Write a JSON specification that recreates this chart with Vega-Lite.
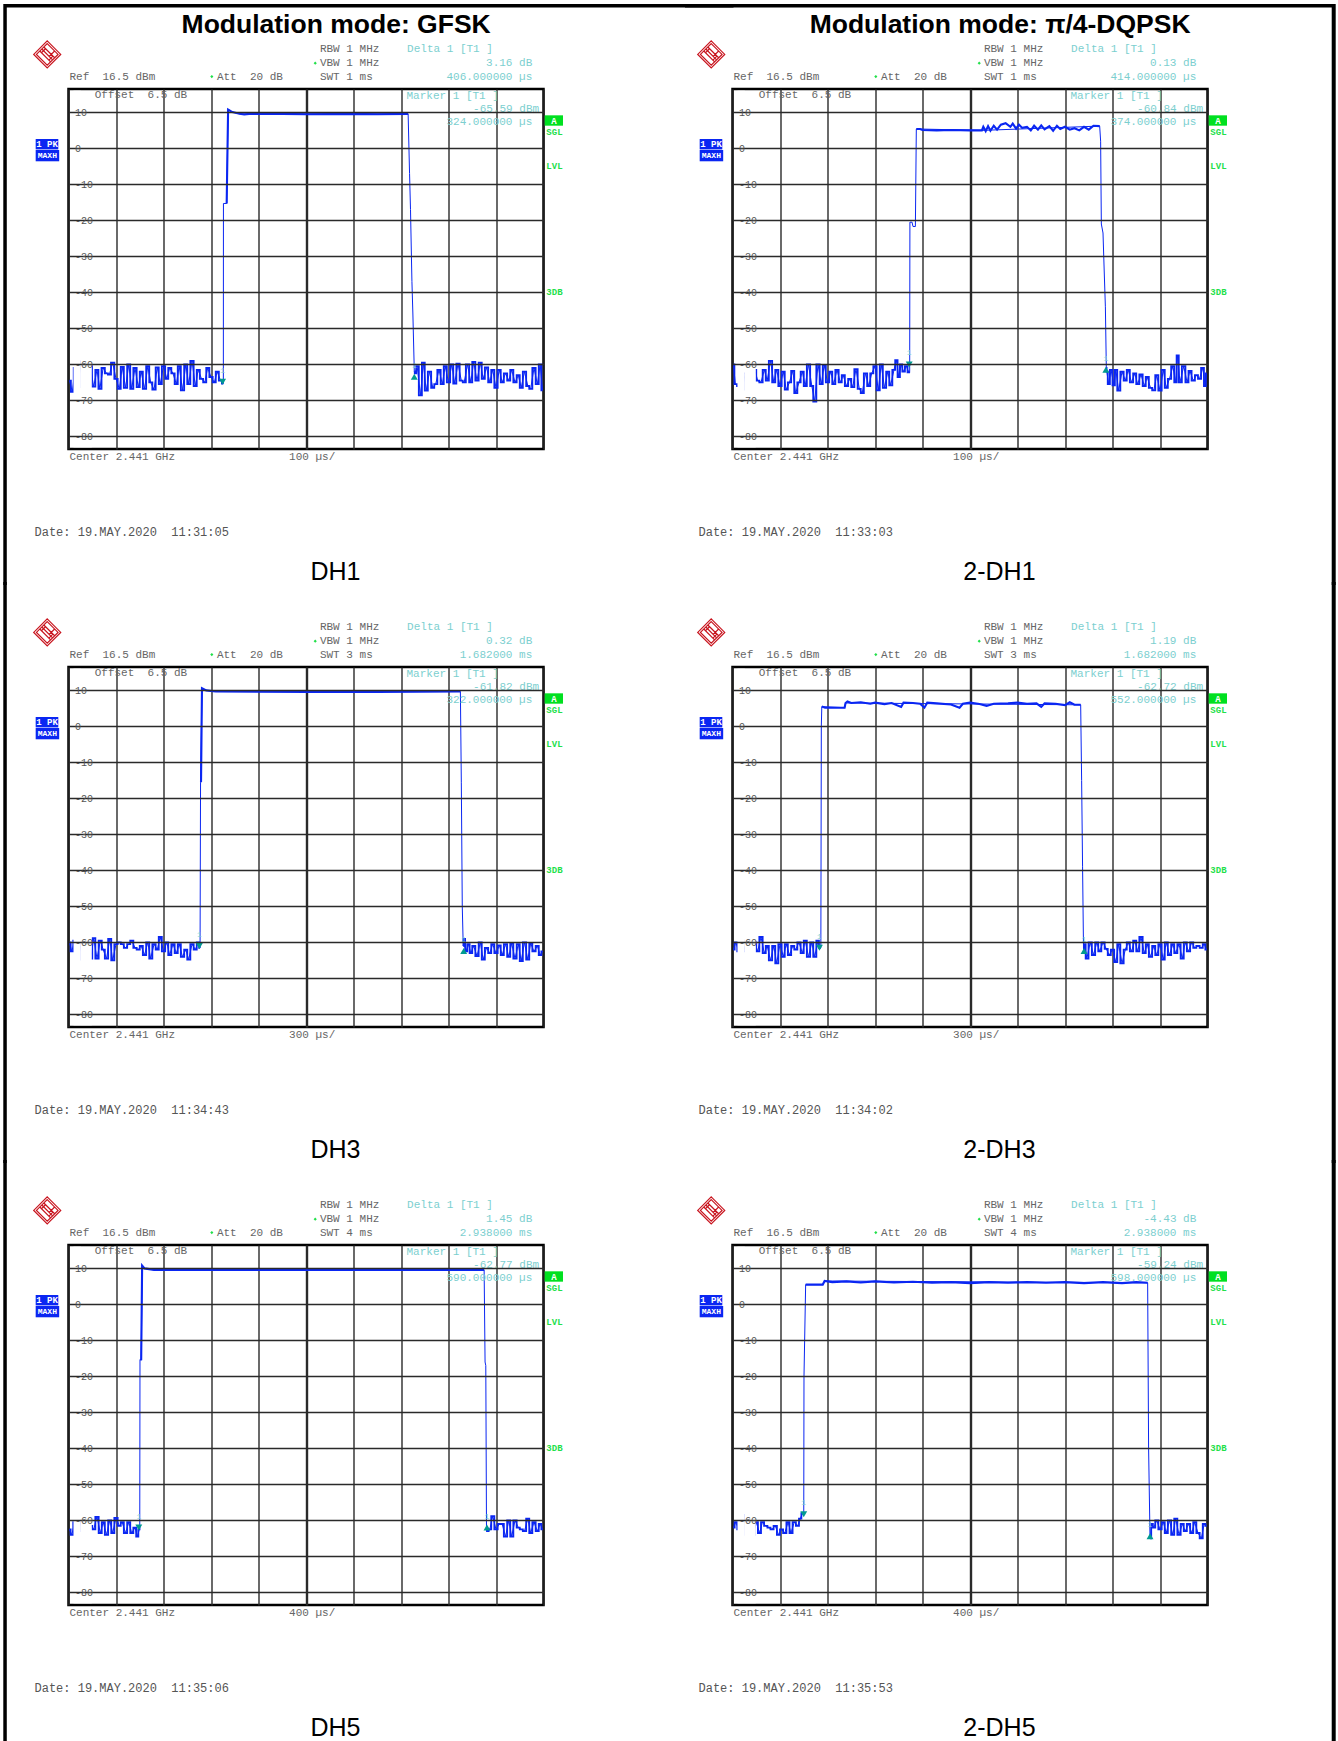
{"$schema":"https://vega.github.io/schema/vega-lite/v6.json","background":"#ffffff","padding":{"left":1.5,"top":0,"right":2,"bottom":0},"bounds":"flush","columns":2,"spacing":{"column":189,"row":218},"resolve":{"axis":{"x":"independent","y":"independent"}},"facet":{"field":"panel","type":"nominal","sort":["DH1","2-DH1","DH3","2-DH3","DH5","2-DH5"],"header":{"labels":false,"title":null,"labelPadding":0,"titlePadding":0,"labelFontSize":0,"labelColor":"transparent","labelExpr":"''"}},
"config":{"headerFacet":{"labels":false,"title":null,"labelPadding":0,"labelFontSize":0,"labelColor":"transparent"},"view":{"stroke":"#000000","strokeWidth":2.5},"axis":{"title":null},"style":{"gray":{"font":"Liberation Mono","fontSize":11,"align":"left","baseline":"middle"},"teal":{"font":"Liberation Mono","fontSize":11,"align":"left","baseline":"middle"},"green":{"font":"Liberation Mono","fontSize":9,"fontWeight":"bold","align":"center","baseline":"middle"},"badge":{"font":"Liberation Mono","fontSize":9,"fontWeight":"bold","align":"center","baseline":"middle"}}},
"data":{"values":[
{"panel":"DH1","kind":"info","col":1,"title":"Modulation mode: GFSK","swt":"SWT 1 ms","delta":"3.16 dB","time":"406.000000 µs","marker":"-65.59 dBm","mtime":"324.000000 µs","span":"100 µs/","date":"Date: 19.MAY.2020\u00a0\u00a011:31:05"},
{"panel":"2-DH1","kind":"info","col":2,"title":"Modulation mode: π/4-DQPSK","swt":"SWT 1 ms","delta":"0.13 dB","time":"414.000000 µs","marker":"-60.84 dBm","mtime":"374.000000 µs","span":"100 µs/","date":"Date: 19.MAY.2020\u00a0\u00a011:33:03"},
{"panel":"DH3","kind":"info","col":1,"swt":"SWT 3 ms","delta":"0.32 dB","time":"1.682000 ms","marker":"-61.82 dBm","mtime":"322.000000 µs","span":"300 µs/","date":"Date: 19.MAY.2020\u00a0\u00a011:34:43"},
{"panel":"2-DH3","kind":"info","col":2,"swt":"SWT 3 ms","delta":"1.19 dB","time":"1.682000 ms","marker":"-62.72 dBm","mtime":"552.000000 µs","span":"300 µs/","date":"Date: 19.MAY.2020\u00a0\u00a011:34:02"},
{"panel":"DH5","kind":"info","col":1,"swt":"SWT 4 ms","delta":"1.45 dB","time":"2.938000 ms","marker":"-62.77 dBm","mtime":"590.000000 µs","span":"400 µs/","date":"Date: 19.MAY.2020\u00a0\u00a011:35:06"},
{"panel":"2-DH5","kind":"info","col":2,"swt":"SWT 4 ms","delta":"-4.43 dB","time":"2.938000 ms","marker":"-59.24 dBm","mtime":"598.000000 µs","span":"400 µs/","date":"Date: 19.MAY.2020\u00a0\u00a011:35:53"},
{"panel":"DH1","kind":"marker","arrow":"down","div":3.244,"dBm":-64.8},{"panel":"DH1","kind":"marker","arrow":"up","div":7.28,"dBm":-63.4},
{"panel":"2-DH1","kind":"marker","arrow":"down","div":3.72,"dBm":-60},{"panel":"2-DH1","kind":"marker","arrow":"up","div":7.86,"dBm":-61.5},
{"panel":"DH3","kind":"marker","arrow":"down","div":2.755,"dBm":-61},{"panel":"DH3","kind":"marker","arrow":"up","div":8.32,"dBm":-62.4},
{"panel":"2-DH3","kind":"marker","arrow":"down","div":1.83,"dBm":-61.5},{"panel":"2-DH3","kind":"marker","arrow":"up","div":7.4,"dBm":-62.4},
{"panel":"DH5","kind":"marker","arrow":"down","div":1.48,"dBm":-62},{"panel":"DH5","kind":"marker","arrow":"up","div":8.81,"dBm":-62},
{"panel":"2-DH5","kind":"marker","arrow":"down","div":1.5,"dBm":-58.3},{"panel":"2-DH5","kind":"marker","arrow":"up","div":8.79,"dBm":-64.4},
{"panel":"DH1","kind":"top","div":3.33,"dBm":-15.3},{"panel":"DH1","kind":"top","div":3.36,"dBm":10.8},{"panel":"DH1","kind":"top","div":3.45,"dBm":10.1},{"panel":"DH1","kind":"top","div":3.6,"dBm":9.6},{"panel":"DH1","kind":"top","div":3.7,"dBm":9.4},{"panel":"DH1","kind":"top","div":3.8,"dBm":9.6},{"panel":"DH1","kind":"top","div":4.5,"dBm":9.6},{"panel":"DH1","kind":"top","div":5,"dBm":9.5},{"panel":"DH1","kind":"top","div":6,"dBm":9.6},{"panel":"DH1","kind":"top","div":6.5,"dBm":9.5},{"panel":"DH1","kind":"top","div":7.15,"dBm":9.6},
{"panel":"DH3","kind":"top","div":2.79,"dBm":-15.5},{"panel":"DH3","kind":"top","div":2.81,"dBm":10.6},{"panel":"DH3","kind":"top","div":2.9,"dBm":10},{"panel":"DH3","kind":"top","div":3.1,"dBm":9.7},{"panel":"DH3","kind":"top","div":5,"dBm":9.6},{"panel":"DH3","kind":"top","div":6.5,"dBm":9.6},{"panel":"DH3","kind":"top","div":8.25,"dBm":9.7},
{"panel":"DH5","kind":"top","div":1.53,"dBm":-15.5},{"panel":"DH5","kind":"top","div":1.55,"dBm":10.8},{"panel":"DH5","kind":"top","div":1.6,"dBm":10},{"panel":"DH5","kind":"top","div":1.8,"dBm":9.6},{"panel":"DH5","kind":"top","div":5,"dBm":9.6},{"panel":"DH5","kind":"top","div":8.75,"dBm":9.6},
{"panel":"2-DH1","kind":"top","div":3.87,"dBm":5.4},{"panel":"2-DH1","kind":"top","div":3.95,"dBm":5.4},{"panel":"2-DH1","kind":"top","div":4,"dBm":5.1},{"panel":"2-DH1","kind":"top","div":4.3,"dBm":5},{"panel":"2-DH1","kind":"top","div":4.6,"dBm":5.1},{"panel":"2-DH1","kind":"top","div":5,"dBm":5},{"panel":"2-DH1","kind":"top","div":5.25,"dBm":5},{"panel":"2-DH1","kind":"top","div":5.28,"dBm":6},{"panel":"2-DH1","kind":"top","div":5.33,"dBm":4.8},{"panel":"2-DH1","kind":"top","div":5.38,"dBm":6.2},{"panel":"2-DH1","kind":"top","div":5.43,"dBm":4.9},{"panel":"2-DH1","kind":"top","div":5.5,"dBm":6.3},{"panel":"2-DH1","kind":"top","div":5.57,"dBm":5.2},{"panel":"2-DH1","kind":"top","div":5.65,"dBm":6.6},{"panel":"2-DH1","kind":"top","div":5.75,"dBm":7},{"panel":"2-DH1","kind":"top","div":5.85,"dBm":6},{"panel":"2-DH1","kind":"top","div":5.9,"dBm":6.9},{"panel":"2-DH1","kind":"top","div":5.97,"dBm":5.5},{"panel":"2-DH1","kind":"top","div":6.03,"dBm":6.6},{"panel":"2-DH1","kind":"top","div":6.1,"dBm":5.7},{"panel":"2-DH1","kind":"top","div":6.2,"dBm":6},{"panel":"2-DH1","kind":"top","div":6.28,"dBm":5},{"panel":"2-DH1","kind":"top","div":6.35,"dBm":6.3},{"panel":"2-DH1","kind":"top","div":6.43,"dBm":5.2},{"panel":"2-DH1","kind":"top","div":6.5,"dBm":6.4},{"panel":"2-DH1","kind":"top","div":6.57,"dBm":5.3},{"panel":"2-DH1","kind":"top","div":6.67,"dBm":6.2},{"panel":"2-DH1","kind":"top","div":6.75,"dBm":4.9},{"panel":"2-DH1","kind":"top","div":6.83,"dBm":6.3},{"panel":"2-DH1","kind":"top","div":6.9,"dBm":5.4},{"panel":"2-DH1","kind":"top","div":7,"dBm":6},{"panel":"2-DH1","kind":"top","div":7.1,"dBm":5.2},{"panel":"2-DH1","kind":"top","div":7.2,"dBm":5.6},{"panel":"2-DH1","kind":"top","div":7.3,"dBm":5},{"panel":"2-DH1","kind":"top","div":7.4,"dBm":6},{"panel":"2-DH1","kind":"top","div":7.5,"dBm":5.2},{"panel":"2-DH1","kind":"top","div":7.6,"dBm":6.3},{"panel":"2-DH1","kind":"top","div":7.73,"dBm":6.2},
{"panel":"2-DH3","kind":"top","div":1.88,"dBm":5.5},{"panel":"2-DH3","kind":"top","div":1.95,"dBm":5.2},{"panel":"2-DH3","kind":"top","div":2.36,"dBm":5.2},{"panel":"2-DH3","kind":"top","div":2.38,"dBm":6.5},{"panel":"2-DH3","kind":"top","div":2.42,"dBm":6.9},{"panel":"2-DH3","kind":"top","div":2.5,"dBm":6.5},{"panel":"2-DH3","kind":"top","div":2.7,"dBm":6.7},{"panel":"2-DH3","kind":"top","div":2.9,"dBm":6.3},{"panel":"2-DH3","kind":"top","div":3,"dBm":6.6},{"panel":"2-DH3","kind":"top","div":3.2,"dBm":6.2},{"panel":"2-DH3","kind":"top","div":3.35,"dBm":6.5},{"panel":"2-DH3","kind":"top","div":3.55,"dBm":5.4},{"panel":"2-DH3","kind":"top","div":3.6,"dBm":6.6},{"panel":"2-DH3","kind":"top","div":3.8,"dBm":6.5},{"panel":"2-DH3","kind":"top","div":3.95,"dBm":6.3},{"panel":"2-DH3","kind":"top","div":4.04,"dBm":5.2},{"panel":"2-DH3","kind":"top","div":4.1,"dBm":6.6},{"panel":"2-DH3","kind":"top","div":4.3,"dBm":6.4},{"panel":"2-DH3","kind":"top","div":4.6,"dBm":6.1},{"panel":"2-DH3","kind":"top","div":4.78,"dBm":5.2},{"panel":"2-DH3","kind":"top","div":4.85,"dBm":6.3},{"panel":"2-DH3","kind":"top","div":5,"dBm":6.6},{"panel":"2-DH3","kind":"top","div":5.2,"dBm":6.2},{"panel":"2-DH3","kind":"top","div":5.35,"dBm":5.7},{"panel":"2-DH3","kind":"top","div":5.5,"dBm":6.3},{"panel":"2-DH3","kind":"top","div":5.8,"dBm":6.4},{"panel":"2-DH3","kind":"top","div":6,"dBm":6.6},{"panel":"2-DH3","kind":"top","div":6.2,"dBm":6.3},{"panel":"2-DH3","kind":"top","div":6.4,"dBm":6.4},{"panel":"2-DH3","kind":"top","div":6.5,"dBm":5.4},{"panel":"2-DH3","kind":"top","div":6.57,"dBm":6.4},{"panel":"2-DH3","kind":"top","div":6.8,"dBm":6.3},{"panel":"2-DH3","kind":"top","div":7,"dBm":5.9},{"panel":"2-DH3","kind":"top","div":7.1,"dBm":6.7},{"panel":"2-DH3","kind":"top","div":7.2,"dBm":6},{"panel":"2-DH3","kind":"top","div":7.33,"dBm":6},
{"panel":"2-DH5","kind":"top","div":1.54,"dBm":5.5},{"panel":"2-DH5","kind":"top","div":1.9,"dBm":5.5},{"panel":"2-DH5","kind":"top","div":1.94,"dBm":6.5},{"panel":"2-DH5","kind":"top","div":2.1,"dBm":6.2},{"panel":"2-DH5","kind":"top","div":2.4,"dBm":6.4},{"panel":"2-DH5","kind":"top","div":2.7,"dBm":6.1},{"panel":"2-DH5","kind":"top","div":3,"dBm":6.4},{"panel":"2-DH5","kind":"top","div":3.4,"dBm":6.1},{"panel":"2-DH5","kind":"top","div":3.8,"dBm":6.3},{"panel":"2-DH5","kind":"top","div":4.2,"dBm":6},{"panel":"2-DH5","kind":"top","div":4.6,"dBm":6.2},{"panel":"2-DH5","kind":"top","div":5,"dBm":5.9},{"panel":"2-DH5","kind":"top","div":5.4,"dBm":6.2},{"panel":"2-DH5","kind":"top","div":5.8,"dBm":6},{"panel":"2-DH5","kind":"top","div":6.2,"dBm":6.2},{"panel":"2-DH5","kind":"top","div":6.6,"dBm":6},{"panel":"2-DH5","kind":"top","div":7,"dBm":6.2},{"panel":"2-DH5","kind":"top","div":7.4,"dBm":5.9},{"panel":"2-DH5","kind":"top","div":7.8,"dBm":6.2},{"panel":"2-DH5","kind":"top","div":8.2,"dBm":5.9},{"panel":"2-DH5","kind":"top","div":8.5,"dBm":6.2},{"panel":"2-DH5","kind":"top","div":8.74,"dBm":6},
{"panel":"DH1","div":0.02,"dBm":-64.5},{"panel":"DH1","div":0.08,"dBm":-67.6},{"panel":"DH1","div":0.14,"dBm":-61},{"panel":"DH1","div":0.2,"dBm":-66.3},{"panel":"DH1","div":0.26,"dBm":-59.2},{"panel":"DH1","div":0.33,"dBm":-65.5},{"panel":"DH1","div":0.4,"dBm":-66.8},{"panel":"DH1","div":0.46,"dBm":-60.5},{"panel":"DH1","div":0.53,"dBm":-66.2},{"panel":"DH1","div":0.6,"dBm":-61.5},{"panel":"DH1","div":0.66,"dBm":-66.8},{"panel":"DH1","div":0.73,"dBm":-61},{"panel":"DH1","div":0.8,"dBm":-62.5},{"panel":"DH1","div":0.86,"dBm":-62.8},{"panel":"DH1","div":0.93,"dBm":-59.5},{"panel":"DH1","div":1,"dBm":-64},{"panel":"DH1","div":1.07,"dBm":-66.8},{"panel":"DH1","div":1.13,"dBm":-60.7},{"panel":"DH1","div":1.2,"dBm":-66.5},{"panel":"DH1","div":1.27,"dBm":-60},{"panel":"DH1","div":1.33,"dBm":-66.8},{"panel":"DH1","div":1.4,"dBm":-61},{"panel":"DH1","div":1.47,"dBm":-66.3},{"panel":"DH1","div":1.53,"dBm":-62},{"panel":"DH1","div":1.6,"dBm":-66.8},{"panel":"DH1","div":1.67,"dBm":-60.5},{"panel":"DH1","div":1.73,"dBm":-65},{"panel":"DH1","div":1.8,"dBm":-67},{"panel":"DH1","div":1.87,"dBm":-60.8},{"panel":"DH1","div":1.93,"dBm":-65.5},{"panel":"DH1","div":2,"dBm":-60.5},{"panel":"DH1","div":2.07,"dBm":-64},{"panel":"DH1","div":2.13,"dBm":-61},{"panel":"DH1","div":2.2,"dBm":-62.5},{"panel":"DH1","div":2.27,"dBm":-65.5},{"panel":"DH1","div":2.33,"dBm":-60.5},{"panel":"DH1","div":2.4,"dBm":-67.2},{"panel":"DH1","div":2.47,"dBm":-60},{"panel":"DH1","div":2.53,"dBm":-65.5},{"panel":"DH1","div":2.6,"dBm":-59},{"panel":"DH1","div":2.67,"dBm":-66},{"panel":"DH1","div":2.73,"dBm":-61.5},{"panel":"DH1","div":2.8,"dBm":-64},{"panel":"DH1","div":2.87,"dBm":-65},{"panel":"DH1","div":2.93,"dBm":-61},{"panel":"DH1","div":3,"dBm":-63.5},{"panel":"DH1","div":3.07,"dBm":-65},{"panel":"DH1","div":3.13,"dBm":-62},{"panel":"DH1","div":3.2,"dBm":-64.5},{"panel":"DH1","div":3.26,"dBm":-65.3},{"panel":"DH1","div":3.262,"dBm":-15.3},{"panel":"DH1","div":3.33,"dBm":-15.3},{"panel":"DH1","div":3.36,"dBm":10.8},{"panel":"DH1","div":3.45,"dBm":10.1},{"panel":"DH1","div":3.6,"dBm":9.6},{"panel":"DH1","div":7.15,"dBm":9.6},{"panel":"DH1","div":7.18,"dBm":-7},{"panel":"DH1","div":7.2,"dBm":-17},{"panel":"DH1","div":7.23,"dBm":-37},{"panel":"DH1","div":7.25,"dBm":-46},{"panel":"DH1","div":7.28,"dBm":-62},{"panel":"DH1","div":7.3,"dBm":-62.5},{"panel":"DH1","div":7.34,"dBm":-60.5},{"panel":"DH1","div":7.41,"dBm":-68.6},{"panel":"DH1","div":7.47,"dBm":-59.5},{"panel":"DH1","div":7.53,"dBm":-67.3},{"panel":"DH1","div":7.6,"dBm":-62},{"panel":"DH1","div":7.67,"dBm":-66.5},{"panel":"DH1","div":7.73,"dBm":-65.5},{"panel":"DH1","div":7.8,"dBm":-61.5},{"panel":"DH1","div":7.87,"dBm":-65.5},{"panel":"DH1","div":7.93,"dBm":-60.5},{"panel":"DH1","div":8,"dBm":-65},{"panel":"DH1","div":8.07,"dBm":-60},{"panel":"DH1","div":8.13,"dBm":-65.3},{"panel":"DH1","div":8.2,"dBm":-59.8},{"panel":"DH1","div":8.27,"dBm":-64.5},{"panel":"DH1","div":8.33,"dBm":-65},{"panel":"DH1","div":8.4,"dBm":-60},{"panel":"DH1","div":8.47,"dBm":-65},{"panel":"DH1","div":8.53,"dBm":-59.3},{"panel":"DH1","div":8.6,"dBm":-64.5},{"panel":"DH1","div":8.67,"dBm":-59.5},{"panel":"DH1","div":8.73,"dBm":-64},{"panel":"DH1","div":8.8,"dBm":-60.8},{"panel":"DH1","div":8.87,"dBm":-65},{"panel":"DH1","div":8.93,"dBm":-61.5},{"panel":"DH1","div":9,"dBm":-66.5},{"panel":"DH1","div":9.07,"dBm":-61.5},{"panel":"DH1","div":9.13,"dBm":-65},{"panel":"DH1","div":9.2,"dBm":-62.5},{"panel":"DH1","div":9.27,"dBm":-64.5},{"panel":"DH1","div":9.33,"dBm":-61.5},{"panel":"DH1","div":9.4,"dBm":-65},{"panel":"DH1","div":9.47,"dBm":-63},{"panel":"DH1","div":9.53,"dBm":-66.5},{"panel":"DH1","div":9.6,"dBm":-62},{"panel":"DH1","div":9.67,"dBm":-66},{"panel":"DH1","div":9.73,"dBm":-66.8},{"panel":"DH1","div":9.8,"dBm":-61},{"panel":"DH1","div":9.87,"dBm":-65.5},{"panel":"DH1","div":9.93,"dBm":-60},{"panel":"DH1","div":9.98,"dBm":-67.2},
{"panel":"2-DH1","div":0.02,"dBm":-60},{"panel":"2-DH1","div":0.06,"dBm":-65.5},{"panel":"2-DH1","div":0.13,"dBm":-66},{"panel":"2-DH1","div":0.2,"dBm":-67},{"panel":"2-DH1","div":0.27,"dBm":-62.5},{"panel":"2-DH1","div":0.33,"dBm":-67.3},{"panel":"2-DH1","div":0.4,"dBm":-64},{"panel":"2-DH1","div":0.47,"dBm":-61.5},{"panel":"2-DH1","div":0.53,"dBm":-64.5},{"panel":"2-DH1","div":0.6,"dBm":-65},{"panel":"2-DH1","div":0.67,"dBm":-61.5},{"panel":"2-DH1","div":0.73,"dBm":-64.5},{"panel":"2-DH1","div":0.8,"dBm":-59},{"panel":"2-DH1","div":0.87,"dBm":-65},{"panel":"2-DH1","div":0.93,"dBm":-61.5},{"panel":"2-DH1","div":1,"dBm":-66},{"panel":"2-DH1","div":1.07,"dBm":-62},{"panel":"2-DH1","div":1.13,"dBm":-67},{"panel":"2-DH1","div":1.2,"dBm":-65},{"panel":"2-DH1","div":1.27,"dBm":-61.8},{"panel":"2-DH1","div":1.33,"dBm":-68},{"panel":"2-DH1","div":1.4,"dBm":-65},{"panel":"2-DH1","div":1.47,"dBm":-62},{"panel":"2-DH1","div":1.53,"dBm":-66},{"panel":"2-DH1","div":1.6,"dBm":-60},{"panel":"2-DH1","div":1.67,"dBm":-66},{"panel":"2-DH1","div":1.73,"dBm":-70.3},{"panel":"2-DH1","div":1.8,"dBm":-60},{"panel":"2-DH1","div":1.87,"dBm":-65.5},{"panel":"2-DH1","div":1.93,"dBm":-60.2},{"panel":"2-DH1","div":2,"dBm":-65},{"panel":"2-DH1","div":2.07,"dBm":-62},{"panel":"2-DH1","div":2.13,"dBm":-65.5},{"panel":"2-DH1","div":2.2,"dBm":-61.5},{"panel":"2-DH1","div":2.27,"dBm":-65},{"panel":"2-DH1","div":2.33,"dBm":-63},{"panel":"2-DH1","div":2.4,"dBm":-66},{"panel":"2-DH1","div":2.47,"dBm":-64},{"panel":"2-DH1","div":2.53,"dBm":-66.3},{"panel":"2-DH1","div":2.6,"dBm":-61.3},{"panel":"2-DH1","div":2.67,"dBm":-66.8},{"panel":"2-DH1","div":2.73,"dBm":-68},{"panel":"2-DH1","div":2.8,"dBm":-62.5},{"panel":"2-DH1","div":2.87,"dBm":-66},{"panel":"2-DH1","div":2.93,"dBm":-62.5},{"panel":"2-DH1","div":3,"dBm":-60.5},{"panel":"2-DH1","div":3.07,"dBm":-67.2},{"panel":"2-DH1","div":3.13,"dBm":-60},{"panel":"2-DH1","div":3.2,"dBm":-66.5},{"panel":"2-DH1","div":3.27,"dBm":-62},{"panel":"2-DH1","div":3.33,"dBm":-65.8},{"panel":"2-DH1","div":3.4,"dBm":-61.5},{"panel":"2-DH1","div":3.45,"dBm":-58.8},{"panel":"2-DH1","div":3.5,"dBm":-63.5},{"panel":"2-DH1","div":3.55,"dBm":-60},{"panel":"2-DH1","div":3.6,"dBm":-62},{"panel":"2-DH1","div":3.66,"dBm":-60.5},{"panel":"2-DH1","div":3.71,"dBm":-62.2},{"panel":"2-DH1","div":3.73,"dBm":-62},{"panel":"2-DH1","div":3.735,"dBm":-20.5},{"panel":"2-DH1","div":3.78,"dBm":-20.5},{"panel":"2-DH1","div":3.8,"dBm":-21.7},{"panel":"2-DH1","div":3.85,"dBm":-21.7},{"panel":"2-DH1","div":3.87,"dBm":5.4},{"panel":"2-DH1","div":5.25,"dBm":5},{"panel":"2-DH1","div":7.73,"dBm":6.2},{"panel":"2-DH1","div":7.75,"dBm":2},{"panel":"2-DH1","div":7.765,"dBm":-21},{"panel":"2-DH1","div":7.8,"dBm":-23.5},{"panel":"2-DH1","div":7.83,"dBm":-36},{"panel":"2-DH1","div":7.85,"dBm":-44},{"panel":"2-DH1","div":7.87,"dBm":-61},{"panel":"2-DH1","div":7.88,"dBm":-62},{"panel":"2-DH1","div":7.92,"dBm":-65.5},{"panel":"2-DH1","div":7.97,"dBm":-61.5},{"panel":"2-DH1","div":8.03,"dBm":-65.8},{"panel":"2-DH1","div":8.07,"dBm":-61.5},{"panel":"2-DH1","div":8.13,"dBm":-67.3},{"panel":"2-DH1","div":8.2,"dBm":-62},{"panel":"2-DH1","div":8.27,"dBm":-64.5},{"panel":"2-DH1","div":8.33,"dBm":-61.5},{"panel":"2-DH1","div":8.4,"dBm":-65},{"panel":"2-DH1","div":8.47,"dBm":-62.5},{"panel":"2-DH1","div":8.53,"dBm":-65.5},{"panel":"2-DH1","div":8.6,"dBm":-62.8},{"panel":"2-DH1","div":8.67,"dBm":-66},{"panel":"2-DH1","div":8.73,"dBm":-63.5},{"panel":"2-DH1","div":8.8,"dBm":-66.5},{"panel":"2-DH1","div":8.87,"dBm":-67.2},{"panel":"2-DH1","div":8.93,"dBm":-63},{"panel":"2-DH1","div":9,"dBm":-67.3},{"panel":"2-DH1","div":9.07,"dBm":-61.5},{"panel":"2-DH1","div":9.13,"dBm":-66.5},{"panel":"2-DH1","div":9.2,"dBm":-64},{"panel":"2-DH1","div":9.27,"dBm":-60.5},{"panel":"2-DH1","div":9.33,"dBm":-65},{"panel":"2-DH1","div":9.37,"dBm":-57.5},{"panel":"2-DH1","div":9.42,"dBm":-65},{"panel":"2-DH1","div":9.5,"dBm":-60.5},{"panel":"2-DH1","div":9.57,"dBm":-65},{"panel":"2-DH1","div":9.63,"dBm":-61.8},{"panel":"2-DH1","div":9.7,"dBm":-64.5},{"panel":"2-DH1","div":9.77,"dBm":-63},{"panel":"2-DH1","div":9.83,"dBm":-64},{"panel":"2-DH1","div":9.9,"dBm":-61},{"panel":"2-DH1","div":9.95,"dBm":-66},{"panel":"2-DH1","div":9.98,"dBm":-62.5},
{"panel":"DH3","div":0.02,"dBm":-60},{"panel":"DH3","div":0.07,"dBm":-62.5},{"panel":"DH3","div":0.13,"dBm":-59.5},{"panel":"DH3","div":0.2,"dBm":-64.8},{"panel":"DH3","div":0.27,"dBm":-60},{"panel":"DH3","div":0.33,"dBm":-64.8},{"panel":"DH3","div":0.4,"dBm":-60.5},{"panel":"DH3","div":0.47,"dBm":-64.5},{"panel":"DH3","div":0.53,"dBm":-58.8},{"panel":"DH3","div":0.6,"dBm":-64.5},{"panel":"DH3","div":0.67,"dBm":-59.5},{"panel":"DH3","div":0.73,"dBm":-62},{"panel":"DH3","div":0.8,"dBm":-64.5},{"panel":"DH3","div":0.87,"dBm":-59},{"panel":"DH3","div":0.93,"dBm":-65},{"panel":"DH3","div":1,"dBm":-60.5},{"panel":"DH3","div":1.07,"dBm":-60},{"panel":"DH3","div":1.13,"dBm":-60.5},{"panel":"DH3","div":1.2,"dBm":-61.5},{"panel":"DH3","div":1.27,"dBm":-60.5},{"panel":"DH3","div":1.33,"dBm":-59.5},{"panel":"DH3","div":1.4,"dBm":-61.5},{"panel":"DH3","div":1.47,"dBm":-62},{"panel":"DH3","div":1.53,"dBm":-61},{"panel":"DH3","div":1.6,"dBm":-63.5},{"panel":"DH3","div":1.67,"dBm":-60},{"panel":"DH3","div":1.73,"dBm":-64.5},{"panel":"DH3","div":1.8,"dBm":-60.5},{"panel":"DH3","div":1.87,"dBm":-62},{"panel":"DH3","div":1.93,"dBm":-58.5},{"panel":"DH3","div":2,"dBm":-62.5},{"panel":"DH3","div":2.07,"dBm":-60},{"panel":"DH3","div":2.13,"dBm":-63.5},{"panel":"DH3","div":2.2,"dBm":-60.5},{"panel":"DH3","div":2.27,"dBm":-63},{"panel":"DH3","div":2.33,"dBm":-60.5},{"panel":"DH3","div":2.4,"dBm":-64},{"panel":"DH3","div":2.47,"dBm":-62},{"panel":"DH3","div":2.53,"dBm":-64.8},{"panel":"DH3","div":2.6,"dBm":-60.5},{"panel":"DH3","div":2.67,"dBm":-62},{"panel":"DH3","div":2.73,"dBm":-60},{"panel":"DH3","div":2.77,"dBm":-61.5},{"panel":"DH3","div":2.78,"dBm":-15.5},{"panel":"DH3","div":2.81,"dBm":10.6},{"panel":"DH3","div":2.9,"dBm":10},{"panel":"DH3","div":3.1,"dBm":9.7},{"panel":"DH3","div":8.25,"dBm":9.7},{"panel":"DH3","div":8.27,"dBm":-15.5},{"panel":"DH3","div":8.29,"dBm":-50},{"panel":"DH3","div":8.31,"dBm":-61},{"panel":"DH3","div":8.33,"dBm":-59},{"panel":"DH3","div":8.37,"dBm":-62.5},{"panel":"DH3","div":8.42,"dBm":-60.5},{"panel":"DH3","div":8.47,"dBm":-63},{"panel":"DH3","div":8.53,"dBm":-61},{"panel":"DH3","div":8.6,"dBm":-63.8},{"panel":"DH3","div":8.67,"dBm":-60},{"panel":"DH3","div":8.73,"dBm":-64.8},{"panel":"DH3","div":8.8,"dBm":-61.5},{"panel":"DH3","div":8.87,"dBm":-63},{"panel":"DH3","div":8.93,"dBm":-60.5},{"panel":"DH3","div":9,"dBm":-63},{"panel":"DH3","div":9.07,"dBm":-60.8},{"panel":"DH3","div":9.13,"dBm":-63.5},{"panel":"DH3","div":9.2,"dBm":-60.5},{"panel":"DH3","div":9.27,"dBm":-64},{"panel":"DH3","div":9.33,"dBm":-60.3},{"panel":"DH3","div":9.4,"dBm":-64.5},{"panel":"DH3","div":9.47,"dBm":-60.5},{"panel":"DH3","div":9.53,"dBm":-65.2},{"panel":"DH3","div":9.6,"dBm":-60},{"panel":"DH3","div":9.67,"dBm":-64.8},{"panel":"DH3","div":9.73,"dBm":-60.3},{"panel":"DH3","div":9.8,"dBm":-62.5},{"panel":"DH3","div":9.87,"dBm":-61},{"panel":"DH3","div":9.93,"dBm":-63.5},{"panel":"DH3","div":9.98,"dBm":-62.5},
{"panel":"2-DH3","div":0.02,"dBm":-62},{"panel":"2-DH3","div":0.07,"dBm":-60},{"panel":"2-DH3","div":0.13,"dBm":-62.5},{"panel":"2-DH3","div":0.2,"dBm":-59.5},{"panel":"2-DH3","div":0.27,"dBm":-62.5},{"panel":"2-DH3","div":0.33,"dBm":-59.5},{"panel":"2-DH3","div":0.4,"dBm":-63},{"panel":"2-DH3","div":0.47,"dBm":-60},{"panel":"2-DH3","div":0.53,"dBm":-62.5},{"panel":"2-DH3","div":0.6,"dBm":-58.5},{"panel":"2-DH3","div":0.67,"dBm":-63},{"panel":"2-DH3","div":0.73,"dBm":-61},{"panel":"2-DH3","div":0.8,"dBm":-65},{"panel":"2-DH3","div":0.87,"dBm":-61},{"panel":"2-DH3","div":0.93,"dBm":-65.8},{"panel":"2-DH3","div":1,"dBm":-60.5},{"panel":"2-DH3","div":1.07,"dBm":-64},{"panel":"2-DH3","div":1.13,"dBm":-60.5},{"panel":"2-DH3","div":1.2,"dBm":-63.5},{"panel":"2-DH3","div":1.27,"dBm":-61},{"panel":"2-DH3","div":1.33,"dBm":-62},{"panel":"2-DH3","div":1.4,"dBm":-60},{"panel":"2-DH3","div":1.47,"dBm":-63},{"panel":"2-DH3","div":1.53,"dBm":-59.5},{"panel":"2-DH3","div":1.6,"dBm":-64},{"panel":"2-DH3","div":1.67,"dBm":-60},{"panel":"2-DH3","div":1.73,"dBm":-64},{"panel":"2-DH3","div":1.8,"dBm":-59.5},{"panel":"2-DH3","div":1.84,"dBm":-61.5},{"panel":"2-DH3","div":1.86,"dBm":-61.5},{"panel":"2-DH3","div":1.87,"dBm":0},{"panel":"2-DH3","div":1.88,"dBm":5.5},{"panel":"2-DH3","div":2.36,"dBm":5.2},{"panel":"2-DH3","div":2.38,"dBm":6.5},{"panel":"2-DH3","div":7.33,"dBm":6},{"panel":"2-DH3","div":7.35,"dBm":-15},{"panel":"2-DH3","div":7.37,"dBm":-39},{"panel":"2-DH3","div":7.39,"dBm":-62},{"panel":"2-DH3","div":7.41,"dBm":-60.5},{"panel":"2-DH3","div":7.46,"dBm":-64.5},{"panel":"2-DH3","div":7.53,"dBm":-60},{"panel":"2-DH3","div":7.6,"dBm":-63.5},{"panel":"2-DH3","div":7.67,"dBm":-60},{"panel":"2-DH3","div":7.73,"dBm":-62.5},{"panel":"2-DH3","div":7.8,"dBm":-60},{"panel":"2-DH3","div":7.87,"dBm":-61.8},{"panel":"2-DH3","div":7.93,"dBm":-63.5},{"panel":"2-DH3","div":8,"dBm":-62},{"panel":"2-DH3","div":8.07,"dBm":-65.5},{"panel":"2-DH3","div":8.13,"dBm":-60.5},{"panel":"2-DH3","div":8.2,"dBm":-65.8},{"panel":"2-DH3","div":8.27,"dBm":-62},{"panel":"2-DH3","div":8.33,"dBm":-60},{"panel":"2-DH3","div":8.4,"dBm":-62.5},{"panel":"2-DH3","div":8.47,"dBm":-59.5},{"panel":"2-DH3","div":8.53,"dBm":-62.5},{"panel":"2-DH3","div":8.6,"dBm":-58.5},{"panel":"2-DH3","div":8.67,"dBm":-63},{"panel":"2-DH3","div":8.73,"dBm":-60.5},{"panel":"2-DH3","div":8.8,"dBm":-64},{"panel":"2-DH3","div":8.87,"dBm":-61},{"panel":"2-DH3","div":8.93,"dBm":-63.5},{"panel":"2-DH3","div":9,"dBm":-60.5},{"panel":"2-DH3","div":9.07,"dBm":-64.8},{"panel":"2-DH3","div":9.13,"dBm":-60},{"panel":"2-DH3","div":9.2,"dBm":-63.5},{"panel":"2-DH3","div":9.27,"dBm":-60.5},{"panel":"2-DH3","div":9.33,"dBm":-63},{"panel":"2-DH3","div":9.4,"dBm":-60.5},{"panel":"2-DH3","div":9.47,"dBm":-64.5},{"panel":"2-DH3","div":9.53,"dBm":-60},{"panel":"2-DH3","div":9.6,"dBm":-62.5},{"panel":"2-DH3","div":9.67,"dBm":-60},{"panel":"2-DH3","div":9.73,"dBm":-61.5},{"panel":"2-DH3","div":9.8,"dBm":-61},{"panel":"2-DH3","div":9.87,"dBm":-61.5},{"panel":"2-DH3","div":9.93,"dBm":-60.5},{"panel":"2-DH3","div":9.98,"dBm":-62},
{"panel":"DH5","div":0.02,"dBm":-62.5},{"panel":"DH5","div":0.07,"dBm":-64},{"panel":"DH5","div":0.13,"dBm":-60.5},{"panel":"DH5","div":0.2,"dBm":-63},{"panel":"DH5","div":0.27,"dBm":-60},{"panel":"DH5","div":0.33,"dBm":-62.5},{"panel":"DH5","div":0.4,"dBm":-59.5},{"panel":"DH5","div":0.47,"dBm":-61.5},{"panel":"DH5","div":0.53,"dBm":-62.5},{"panel":"DH5","div":0.6,"dBm":-59},{"panel":"DH5","div":0.67,"dBm":-63.5},{"panel":"DH5","div":0.73,"dBm":-60.5},{"panel":"DH5","div":0.8,"dBm":-64},{"panel":"DH5","div":0.87,"dBm":-60},{"panel":"DH5","div":0.93,"dBm":-63.5},{"panel":"DH5","div":1,"dBm":-59.3},{"panel":"DH5","div":1.07,"dBm":-61.5},{"panel":"DH5","div":1.13,"dBm":-60.5},{"panel":"DH5","div":1.2,"dBm":-63.5},{"panel":"DH5","div":1.27,"dBm":-60.5},{"panel":"DH5","div":1.33,"dBm":-63.5},{"panel":"DH5","div":1.4,"dBm":-62},{"panel":"DH5","div":1.45,"dBm":-64.5},{"panel":"DH5","div":1.49,"dBm":-62.5},{"panel":"DH5","div":1.5,"dBm":-62},{"panel":"DH5","div":1.505,"dBm":-15.3},{"panel":"DH5","div":1.53,"dBm":-15.5},{"panel":"DH5","div":1.55,"dBm":10.8},{"panel":"DH5","div":1.6,"dBm":10},{"panel":"DH5","div":1.8,"dBm":9.6},{"panel":"DH5","div":8.75,"dBm":9.6},{"panel":"DH5","div":8.77,"dBm":-16},{"panel":"DH5","div":8.785,"dBm":-17},{"panel":"DH5","div":8.8,"dBm":-62},{"panel":"DH5","div":8.82,"dBm":-63},{"panel":"DH5","div":8.87,"dBm":-62.5},{"panel":"DH5","div":8.93,"dBm":-58.8},{"panel":"DH5","div":9,"dBm":-62.5},{"panel":"DH5","div":9.07,"dBm":-61},{"panel":"DH5","div":9.13,"dBm":-61},{"panel":"DH5","div":9.2,"dBm":-64.5},{"panel":"DH5","div":9.27,"dBm":-60},{"panel":"DH5","div":9.33,"dBm":-64.5},{"panel":"DH5","div":9.4,"dBm":-60},{"panel":"DH5","div":9.47,"dBm":-62},{"panel":"DH5","div":9.53,"dBm":-62.5},{"panel":"DH5","div":9.6,"dBm":-63},{"panel":"DH5","div":9.67,"dBm":-59.5},{"panel":"DH5","div":9.73,"dBm":-63.5},{"panel":"DH5","div":9.8,"dBm":-60.5},{"panel":"DH5","div":9.87,"dBm":-63},{"panel":"DH5","div":9.93,"dBm":-61},{"panel":"DH5","div":9.98,"dBm":-62.5},
{"panel":"2-DH5","div":0.02,"dBm":-62},{"panel":"2-DH5","div":0.07,"dBm":-60.5},{"panel":"2-DH5","div":0.13,"dBm":-62.5},{"panel":"2-DH5","div":0.2,"dBm":-59.8},{"panel":"2-DH5","div":0.25,"dBm":-58.5},{"panel":"2-DH5","div":0.3,"dBm":-64},{"panel":"2-DH5","div":0.37,"dBm":-60},{"panel":"2-DH5","div":0.43,"dBm":-64},{"panel":"2-DH5","div":0.5,"dBm":-60.5},{"panel":"2-DH5","div":0.57,"dBm":-63.5},{"panel":"2-DH5","div":0.63,"dBm":-60.5},{"panel":"2-DH5","div":0.7,"dBm":-61.5},{"panel":"2-DH5","div":0.77,"dBm":-62},{"panel":"2-DH5","div":0.83,"dBm":-62.5},{"panel":"2-DH5","div":0.9,"dBm":-61.5},{"panel":"2-DH5","div":0.97,"dBm":-64},{"panel":"2-DH5","div":1.03,"dBm":-62.5},{"panel":"2-DH5","div":1.1,"dBm":-63.5},{"panel":"2-DH5","div":1.17,"dBm":-60.5},{"panel":"2-DH5","div":1.23,"dBm":-63.5},{"panel":"2-DH5","div":1.3,"dBm":-60.5},{"panel":"2-DH5","div":1.37,"dBm":-61.5},{"panel":"2-DH5","div":1.43,"dBm":-59.5},{"panel":"2-DH5","div":1.47,"dBm":-58},{"panel":"2-DH5","div":1.5,"dBm":-58},{"panel":"2-DH5","div":1.505,"dBm":-20},{"panel":"2-DH5","div":1.54,"dBm":5.5},{"panel":"2-DH5","div":1.9,"dBm":5.5},{"panel":"2-DH5","div":1.94,"dBm":6.5},{"panel":"2-DH5","div":8.74,"dBm":6},{"panel":"2-DH5","div":8.76,"dBm":-40},{"panel":"2-DH5","div":8.79,"dBm":-65},{"panel":"2-DH5","div":8.8,"dBm":-65},{"panel":"2-DH5","div":8.83,"dBm":-61},{"panel":"2-DH5","div":8.87,"dBm":-62},{"panel":"2-DH5","div":8.93,"dBm":-60},{"panel":"2-DH5","div":9,"dBm":-62.5},{"panel":"2-DH5","div":9.07,"dBm":-60.5},{"panel":"2-DH5","div":9.13,"dBm":-63.5},{"panel":"2-DH5","div":9.2,"dBm":-60},{"panel":"2-DH5","div":9.27,"dBm":-64},{"panel":"2-DH5","div":9.33,"dBm":-59.5},{"panel":"2-DH5","div":9.4,"dBm":-64},{"panel":"2-DH5","div":9.47,"dBm":-61},{"panel":"2-DH5","div":9.53,"dBm":-63},{"panel":"2-DH5","div":9.6,"dBm":-61},{"panel":"2-DH5","div":9.67,"dBm":-63.5},{"panel":"2-DH5","div":9.73,"dBm":-60.5},{"panel":"2-DH5","div":9.8,"dBm":-63.5},{"panel":"2-DH5","div":9.87,"dBm":-65},{"panel":"2-DH5","div":9.93,"dBm":-61},{"panel":"2-DH5","div":9.98,"dBm":-61.5}
]},
"spec":{"width":475,"height":360,"layer":[
{"transform":[{"filter":"!datum.kind"}],"mark":{"type":"line","color":"#0a26f2","strokeWidth":1,"interpolate":"linear"},"encoding":{"x":{"field":"div","type":"quantitative","scale":{"domain":[0,10],"nice":false,"zero":false},"axis":{"values":[0,1,2,3,4,5,6,7,8,9,10],"tickCount":20,"title":null,"grid":true,"gridColor":"#2a2a2a","gridWidth":{"condition":{"test":"datum.value===5","value":2.4},"value":1.4},"labels":false,"ticks":false,"domain":false}},"y":{"field":"dBm","type":"quantitative","scale":{"domain":[-83.5,16.5],"nice":false,"zero":false},"axis":{"values":[10,0,-10,-20,-30,-40,-50,-60,-70,-80],"tickCount":20,"title":null,"grid":true,"gridColor":"#2a2a2a","gridWidth":1.4,"ticks":false,"domain":false,"labelPadding":-6,"labelAlign":"left","labelOverlap":false,"labelFlush":false,"labelBound":false,"labelExpr":"datum.value<0?'-'+abs(datum.value):''+datum.value","labelFont":"Liberation Mono","labelFontSize":10,"labelColor":"#555555","zindex":1}}}},
{"transform":[{"filter":"!datum.kind && datum.dBm<-55"},{"calculate":"datum.div<5?'left':'right'","as":"side"}],"mark":{"type":"line","color":"#0a26f2","strokeWidth":1.8,"interpolate":"step"},"encoding":{"x":{"field":"div","type":"quantitative"},"y":{"field":"dBm","type":"quantitative"},"detail":{"field":"side","type":"nominal"}}},
{"transform":[{"filter":"datum.kind==='top'"}],"mark":{"type":"line","color":"#0a26f2","strokeWidth":2.1},"encoding":{"x":{"field":"div","type":"quantitative"},"y":{"field":"dBm","type":"quantitative"}}},
{"transform":[{"filter":"datum.kind==='marker'"}],"mark":{"type":"point","filled":true,"color":"#009a90","size":48,"opacity":1},"encoding":{"x":{"field":"div","type":"quantitative"},"y":{"field":"dBm","type":"quantitative"},"shape":{"field":"arrow","type":"nominal","scale":{"domain":["down","up"],"range":["triangle-down","triangle-up"]},"legend":null}}},
{"transform":[{"filter":"datum.kind==='marker'"}],"mark":{"type":"text","font":"Liberation Mono","fontSize":8,"color":"#7ccfcf","dy":-11},"encoding":{"x":{"field":"div","type":"quantitative"},"y":{"field":"dBm","type":"quantitative"},"text":{"value":"1"}}},
{"transform":[{"filter":"datum.kind==='info'"}],"layer":[
{"mark":{"type":"rect","color":"#ffffff"},"encoding":{"x":{"datum":0.105},"x2":{"datum":0.26},"y":{"datum":16},"y2":{"datum":-83}}},
{"mark":{"type":"rect","color":"#ffffff"},"encoding":{"x":{"datum":0.26},"x2":{"datum":0.37},"y":{"datum":14},"y2":{"datum":5}}},
{"mark":{"type":"rect","color":"#ffffff"},"encoding":{"x":{"datum":0.26},"x2":{"datum":0.49},"y":{"datum":-5},"y2":{"datum":-83}}},
{"mark":{"type":"point","shape":"M0,-1L1,0L0,1L-1,0Z M0,-.8L.8,0L0,.8L-.8,0Z M-.55,-.25L.25,.55 M-.4,-.4L.4,.4 M-.25,-.55L.55,.25 M.55,-.25L.15,.15 M-.15,-.4L-.4,-.15 M.4,.15L.15,.4","filled":false,"stroke":"#c8141e","strokeWidth":1.2,"size":729,"opacity":1},"encoding":{"x":{"datum":-0.448},"y":{"datum":26.11}}},
{"mark":{"type":"text","font":"Liberation Sans","fontWeight":"bold","fontSize":26.5,"color":"#000000","align":"center","baseline":"middle"},"transform":[{"filter":"datum.title"}],"encoding":{"x":{"datum":5.634},"y":{"datum":34.28},"text":{"field":"title"}}},
{"mark":{"type":"text","font":"Liberation Sans","fontSize":25,"color":"#000000","align":"center","baseline":"middle"},"encoding":{"x":{"datum":5.62},"y":{"datum":-117.67},"text":{"field":"panel"}}},
{"mark":{"type":"text","style":"gray","color":"#666666"},"encoding":{"x":{"datum":5.293},"y":{"datum":27.5},"text":{"value":"RBW 1 MHz"}}},
{"mark":{"type":"text","style":"gray","color":"#666666"},"encoding":{"x":{"datum":5.293},"y":{"datum":23.67},"text":{"value":"VBW 1 MHz"}}},
{"mark":{"type":"text","style":"gray","color":"#666666"},"encoding":{"x":{"datum":5.293},"y":{"datum":19.94},"text":{"field":"swt"}}},
{"mark":{"type":"text","style":"gray","color":"#666666"},"encoding":{"x":{"datum":0.02},"y":{"datum":19.94},"text":{"value":"Ref\u00a0\u00a016.5 dBm"}}},
{"mark":{"type":"text","style":"gray","color":"#666666"},"encoding":{"x":{"datum":3.124},"y":{"datum":19.94},"text":{"value":"Att\u00a0\u00a020 dB"}}},
{"mark":{"type":"text","style":"gray","color":"#666666"},"encoding":{"x":{"datum":0.552},"y":{"datum":14.94},"text":{"value":"Offset\u00a0\u00a06.5 dB"}}},
{"mark":{"type":"text","style":"gray","color":"#666666"},"encoding":{"x":{"datum":0.02},"y":{"datum":-85.72},"text":{"value":"Center 2.441 GHz"}}},
{"mark":{"type":"text","style":"gray","color":"#666666"},"encoding":{"x":{"datum":4.644},"y":{"datum":-85.72},"text":{"field":"span"}}},
{"mark":{"type":"text","style":"gray","color":"#555555","fontSize":12},"encoding":{"x":{"datum":-0.716},"y":{"datum":-106.56},"text":{"field":"date"}}},
{"mark":{"type":"point","shape":"diamond","filled":true,"color":"#22e04a","size":10,"opacity":1},"encoding":{"x":{"datum":5.194},"y":{"datum":23.67}}},
{"mark":{"type":"point","shape":"diamond","filled":true,"color":"#22e04a","size":10,"opacity":1},"encoding":{"x":{"datum":3.017},"y":{"datum":19.94}}},
{"mark":{"type":"text","style":"teal","color":"#7ccfcf"},"encoding":{"x":{"datum":7.128},"y":{"datum":27.5},"text":{"value":"Delta 1 [T1 ]"}}},
{"mark":{"type":"text","style":"teal","color":"#7ccfcf","align":"right"},"encoding":{"x":{"datum":9.764},"y":{"datum":23.67},"text":{"field":"delta"}}},
{"mark":{"type":"text","style":"teal","color":"#7ccfcf","align":"right"},"encoding":{"x":{"datum":9.764},"y":{"datum":19.94},"text":{"field":"time"}}},
{"mark":{"type":"text","style":"teal","color":"#7ccfcf"},"encoding":{"x":{"datum":7.116},"y":{"datum":14.61},"text":{"value":"Marker 1 [T1 ]"}}},
{"mark":{"type":"text","style":"teal","color":"#7ccfcf","align":"right"},"encoding":{"x":{"datum":9.907},"y":{"datum":11},"text":{"field":"marker"}}},
{"mark":{"type":"text","style":"teal","color":"#7ccfcf","align":"right"},"encoding":{"x":{"datum":9.764},"y":{"datum":7.39},"text":{"field":"mtime"}}},
{"mark":{"type":"rect","color":"#0a26f2"},"encoding":{"x":{"datum":-0.691},"x2":{"datum":-0.215},"y":{"datum":2.61},"y2":{"datum":-0.28}}},
{"mark":{"type":"rect","color":"#0a26f2"},"encoding":{"x":{"datum":-0.691},"x2":{"datum":-0.196},"y":{"datum":-0.44},"y2":{"datum":-3.58}}},
{"mark":{"type":"text","style":"badge","color":"#ffffff"},"encoding":{"x":{"datum":-0.453},"y":{"datum":1.17},"text":{"value":"1 PK"}}},
{"mark":{"type":"text","style":"badge","color":"#ffffff","fontSize":8},"encoding":{"x":{"datum":-0.445},"y":{"datum":-2},"text":{"value":"MAXH"}}},
{"mark":{"type":"rect","color":"#00e020"},"encoding":{"x":{"datum":10.025},"x2":{"datum":10.41},"y":{"datum":9.19},"y2":{"datum":6.31}}},
{"mark":{"type":"text","style":"badge","color":"#ffffff"},"encoding":{"x":{"datum":10.22},"y":{"datum":7.75},"text":{"value":"A"}}},
{"mark":{"type":"text","style":"green","color":"#22e04a"},"encoding":{"x":{"datum":10.23},"y":{"datum":4.56},"text":{"value":"SGL"}}},
{"mark":{"type":"text","style":"green","color":"#22e04a"},"encoding":{"x":{"datum":10.23},"y":{"datum":-4.97},"text":{"value":"LVL"}}},
{"mark":{"type":"text","style":"green","color":"#22e04a"},"encoding":{"x":{"datum":10.23},"y":{"datum":-39.78},"text":{"value":"3DB"}}},
{"transform":[{"filter":"datum.col===1"}],"mark":{"type":"rule","color":"#000000","strokeWidth":3.5},"encoding":{"x":{"datum":-1.336},"y":{"datum":40.11},"y2":{"datum":-121.3}}},
{"transform":[{"filter":"datum.col===2"}],"mark":{"type":"rule","color":"#000000","strokeWidth":4},"encoding":{"x":{"datum":12.657},"y":{"datum":40.11},"y2":{"datum":-121.3}}},
{"transform":[{"filter":"datum.col===1 && datum.title"}],"mark":{"type":"rule","color":"#000000","strokeWidth":3.5},"encoding":{"x":{"datum":-1.336},"x2":{"datum":14},"y":{"datum":39.625}}},
{"transform":[{"filter":"datum.col===2 && datum.title"}],"mark":{"type":"rule","color":"#000000","strokeWidth":3.5},"encoding":{"x":{"datum":-1},"x2":{"datum":12.657},"y":{"datum":39.625}}}
]}
]}}
